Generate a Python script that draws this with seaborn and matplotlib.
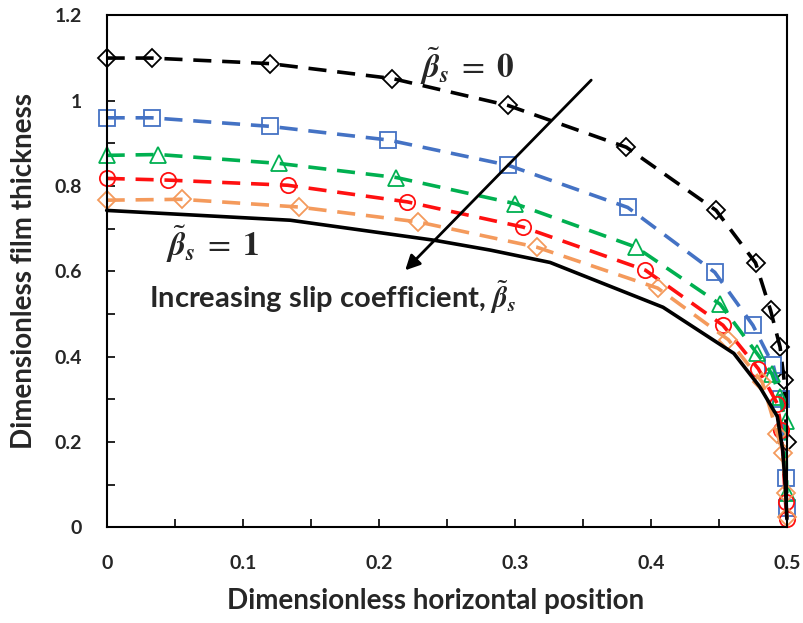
import matplotlib
matplotlib.use("Agg")
import matplotlib.pyplot as plt
from matplotlib.ticker import MultipleLocator
import seaborn as sns

# beta_s = 0 (black diamonds)
black_x = [0, 0.033, 0.12, 0.21, 0.295, 0.382, 0.448, 0.477, 0.488, 0.495, 0.498, 0.5]
black_y = [1.10, 1.10, 1.087, 1.052, 0.989, 0.891, 0.743, 0.62, 0.509, 0.423, 0.345, 0.20]

blue_x = [0, 0.033, 0.12, 0.207, 0.295, 0.383, 0.447, 0.475, 0.49, 0.496, 0.499, 0.5]
blue_y = [0.96, 0.96, 0.94, 0.908, 0.849, 0.75, 0.598, 0.474, 0.38, 0.30, 0.116, 0.045]

green_x = [0, 0.038, 0.127, 0.213, 0.30, 0.389, 0.451, 0.478, 0.489, 0.495, 0.499, 0.5]
green_y = [0.872, 0.874, 0.853, 0.82, 0.759, 0.657, 0.523, 0.408, 0.36, 0.306, 0.25, 0.08]

red_x = [0, 0.045, 0.133, 0.221, 0.306, 0.396, 0.453, 0.479, 0.493, 0.496, 0.499, 0.5]
red_y = [0.818, 0.814, 0.802, 0.763, 0.704, 0.603, 0.474, 0.372, 0.29, 0.228, 0.06, 0.02]

orange_x = [0, 0.055, 0.141, 0.229, 0.316, 0.405, 0.457, 0.482, 0.493, 0.497, 0.499, 0.5]
orange_y = [0.767, 0.769, 0.751, 0.716, 0.657, 0.561, 0.44, 0.34, 0.22, 0.174, 0.08, 0.025]

# beta_s = 1 (solid line, no markers)
solid_x = [0, 0.135, 0.241, 0.282, 0.326, 0.409, 0.461, 0.48, 0.493, 0.497, 0.499, 0.5]
solid_y = [0.743, 0.72, 0.673, 0.65, 0.621, 0.516, 0.408, 0.33, 0.26, 0.18, 0.09, 0.02]

x_ticks = [0, 0.1, 0.2, 0.3, 0.4, 0.5]
x_labels = ['0', '0.1', '0.2', '0.3', '0.4', '0.5']
y_ticks = [0, 0.2, 0.4, 0.6, 0.8, 1.0, 1.2]
y_labels = ['0', '0.2', '0.4', '0.6', '0.8', '1', '1.2']

sns.set_theme(style="ticks")
plt.rcParams['font.family'] = ['Lato', 'DejaVu Sans']
plt.rcParams['mathtext.fontset'] = 'stix'

fig = plt.figure(figsize=(8.04, 6.23), dpi=100)
ax = fig.add_axes([0.1327, 0.1533, 0.846, 0.822])

series = [
    (black_x, black_y, 'black', 'D', 9),
    (blue_x, blue_y, '#4472C4', 's', 11),
    (green_x, green_y, '#00B050', '^', 11),
    (red_x, red_y, '#FF1010', 'o', 11),
    (orange_x, orange_y, '#F49A5C', 'D', 9),
]
for xs, ys, col, mk, ms in series:
    sns.lineplot(x=xs, y=ys, ax=ax, sort=False, color=col, lw=2.6,
                 linestyle=(0, (5, 3)), marker=mk, markersize=ms,
                 markerfacecolor='none', markeredgecolor=col,
                 markeredgewidth=1.3, clip_on=False)

sns.lineplot(x=solid_x, y=solid_y, ax=ax, sort=False, color='black', lw=2.6,
             clip_on=False)

ax.set_xlim(0, 0.5)
ax.set_ylim(0, 1.2)
ax.xaxis.set_minor_locator(MultipleLocator(0.05))
ax.yaxis.set_minor_locator(MultipleLocator(0.1))
ax.set_xticks(x_ticks, x_labels)
ax.set_yticks(y_ticks, y_labels)
ax.tick_params(which='both', direction='in', length=6, width=1.2, color='black')
ax.tick_params(axis='x', which='major', pad=20, labelsize=14)
ax.tick_params(axis='y', which='major', pad=18, labelsize=14)
for lab in ax.get_xticklabels() + ax.get_yticklabels():
    lab.set_fontweight('bold')
for sp in ax.spines.values():
    sp.set_linewidth(1.5)
    sp.set_color('black')

ax.set_xlabel('Dimensionless horizontal position', fontsize=20, fontweight='bold')
ax.set_ylabel('Dimensionless film thickness', fontsize=20, fontweight='bold')
ax.xaxis.set_label_coords(0.483, -0.118)
ax.yaxis.set_label_coords(-0.1025, 0.5)

ax.text(0.265, 1.08, r'$\tilde{\mathbfit{\beta}}_{\mathbfit{s}}\;=\;\mathbf{0}$', fontsize=24,
        ha='center', va='center')
ax.text(0.078, 0.664, r'$\tilde{\mathbfit{\beta}}_{\mathbfit{s}}\;=\;\mathbf{1}$', fontsize=24,
        ha='center', va='center')
ax.text(0.1657, 0.54, r'Increasing slip coefficient, $\tilde{\mathbfit{\beta}}_{\mathbfit{s}}$',
        fontsize=21, fontweight='bold', ha='center', va='center')
ax.annotate('', xy=(0.218, 0.598), xytext=(0.3576, 1.053),
            arrowprops=dict(arrowstyle='-|>', color='black', lw=2, mutation_scale=22))

fig.savefig('out.png', dpi=100)
